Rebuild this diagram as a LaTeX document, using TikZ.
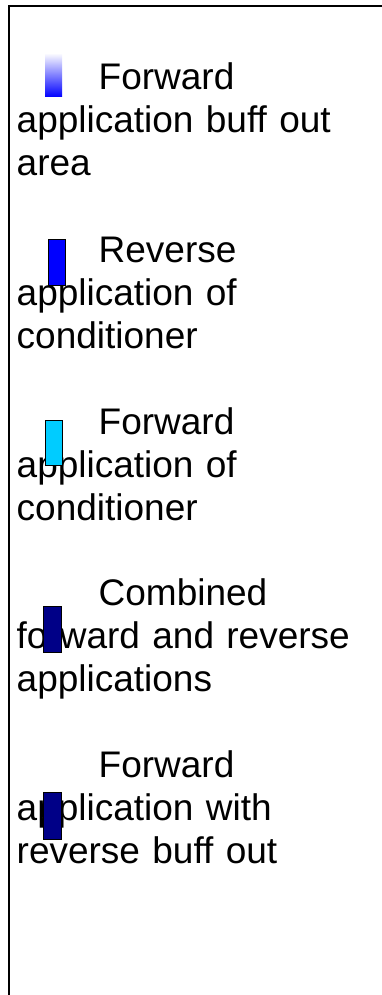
\documentclass[tikz,border=0pt]{standalone}
\usepackage{fontspec}
\setmainfont{Liberation Sans}
\usepackage{xcolor}
\usepackage{tikz}

\definecolor{condcyan}{RGB}{0,204,255}
\definecolor{combnavy}{RGB}{0,0,135}

\begin{document}
\begin{tikzpicture}[
  x=1pt, y=1pt,
  every node/.style={font=\fontsize{37}{43}\selectfont},
  legendtext/.style={anchor=base west, inner sep=0pt, text width=360pt, align=left},
  swatch/.style={draw, line width=1pt, inner sep=0pt, minimum width=17pt, minimum height=45pt}
]
\useasboundingbox (0,0) rectangle (382,-995);

% frame of the legend
\coordinate (frametop) at (382,-6);
\coordinate (framecorner) at (8.5,-6);
\coordinate (framebottom) at (8.5,-995);
\draw[line width=2pt] (frametop) -- (framecorner) -- (framebottom);

% entries
\node[legendtext] (fwdbuff) at (16.5,-90) {\hspace*{82pt}Forward\\application buff out\\area};
\node[legendtext] (revcond) at (16.5,-262) {\hspace*{82pt}Reverse\\application of\\conditioner};
\node[legendtext] (fwdcond) at (16.5,-434) {\hspace*{82pt}Forward\\application of\\conditioner};
\node[legendtext] (combined) at (16.5,-605) {\hspace*{82pt}Combined\\forward and reverse\\applications};
\node[legendtext] (fwdrevbuff) at (16.5,-777) {\hspace*{82pt}Forward\\application with\\reverse buff out};

% swatches
\node[swatch, draw=none, minimum height=44pt, top color=white, bottom color=blue] (fwdbuffkey) at (53.5,-75) {};
\node[swatch, fill=blue, minimum height=46pt] (revcondkey) at (56.5,-262) {};
\node[swatch, fill=condcyan] (fwdcondkey) at (53.5,-442.5) {};
\node[swatch, fill=combnavy, minimum width=18pt, minimum height=46pt] (combinedkey) at (52,-629) {};
\node[swatch, fill=combnavy, minimum width=18pt, minimum height=47pt] (fwdrevbuffkey) at (52,-815.5) {};
\end{tikzpicture}
\end{document}
